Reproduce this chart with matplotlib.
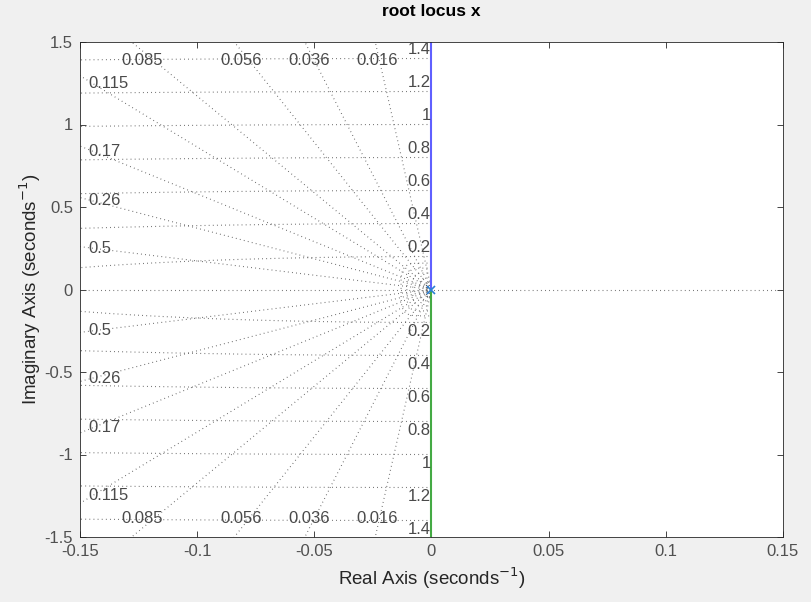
import numpy as np
import matplotlib
matplotlib.use('Agg')
import matplotlib.pyplot as plt

plt.rcParams['font.family'] = ['Liberation Sans', 'DejaVu Sans']

# damping ratios and natural frequencies of the s-plane grid
zetas = [0.016, 0.036, 0.056, 0.085, 0.115, 0.17, 0.26, 0.5]
zeta_labels = ['0.016', '0.036', '0.056', '0.085', '0.115', '0.17', '0.26', '0.5']
wns = [0.2, 0.4, 0.6, 0.8, 1.0, 1.2, 1.4]
wn_labels = ['0.2', '0.4', '0.6', '0.8', '1', '1.2', '1.4']

# small contours around the origin (half width, half height)
inner_w = [0.0022, 0.005, 0.008, 0.0105, 0.013]
inner_h = [0.045, 0.07, 0.1, 0.13, 0.16]

# root locus branches: pole at the origin moving along the imaginary axis
pole_re = [0.0]
pole_im = [0.0]
branch_up_re = [0.0, 0.0]
branch_up_im = [0.0, 1.5]
branch_dn_re = [0.0, 0.0]
branch_dn_im = [0.0, -1.5]

xlim = (-0.15, 0.15)
ylim = (-1.5, 1.5)

grid_col = '#555555'
txt_col = '#4a4a4a'
dots = (0, (0.7, 3.0))
fs = 12

fig = plt.figure(figsize=(8.12, 6.02), dpi=100, facecolor='#f0f0f0')
ax = fig.add_axes([80 / 812, 65 / 602, 703 / 812, 495 / 602])
ax.set_facecolor('white')

# constant damping lines
for z in zetas:
    s = np.sqrt(1 - z ** 2)
    for sgn in (1, -1):
        ax.plot([0, -3 * z], [0, sgn * 3 * s], color=grid_col, lw=0.8, ls=dots)
ax.plot([xlim[0], xlim[1]], [0, 0], color=grid_col, lw=0.8, ls=dots)

# constant natural frequency circles
th = np.linspace(np.pi / 2, 3 * np.pi / 2, 4000)
for w in wns:
    ax.plot(w * np.cos(th), w * np.sin(th), color=grid_col, lw=0.8, ls=dots)

t = np.linspace(0, np.pi, 200)
for w, h in zip(inner_w, inner_h):
    xs = -w * np.abs(np.sin(t)) ** 0.35
    ys = h * np.sign(np.cos(t)) * np.abs(np.cos(t)) ** 0.5
    ax.plot(xs, ys, color=grid_col, lw=0.8, ls=dots if w > 0.003 else (0, (1.0, 1.0)))

# damping labels: along the top/bottom row or at the left edge
for z, lab in zip(zetas, zeta_labels):
    slope = np.sqrt(1 - z ** 2) / z
    y_left = -xlim[0] * slope
    if y_left > 1.4:
        xl = -1.45 / slope
        for sgn in (1, -1):
            ax.text(xl, sgn * 1.385, lab, ha='center', va='center', fontsize=fs, color=txt_col)
    else:
        for sgn in (1, -1):
            ax.text(-0.1465, sgn * y_left * 0.965, lab, ha='left', va='center', fontsize=fs, color=txt_col)

# natural frequency labels next to the imaginary axis
for w, lab in zip(wns, wn_labels):
    ax.text(-0.0004, w + 0.01, lab, ha='right', va='bottom', fontsize=fs, color=txt_col)
    ax.text(-0.0004, -w - 0.01, lab, ha='right', va='top', fontsize=fs, color=txt_col)

# root locus
ax.plot(branch_up_re, branch_up_im, color='#6060ff', lw=1.5)
ax.plot(branch_dn_re, branch_dn_im, color='#44aa44', lw=1.5)
ax.plot(pole_re, pole_im, 'x', color='#2a7fd4', ms=6, mew=1.2)

ax.set_xlim(*xlim)
ax.set_ylim(*ylim)
ax.set_xticks(np.linspace(-0.15, 0.15, 7))
ax.set_xticklabels(['-0.15', '-0.1', '-0.05', '0', '0.05', '0.1', '0.15'])
ax.set_yticks(np.linspace(-1.5, 1.5, 7))
ax.set_yticklabels(['-1.5', '-1', '-0.5', '0', '0.5', '1', '1.5'])
ax.tick_params(direction='in', top=True, right=True, length=4, width=0.6,
               labelsize=fs, colors='#262626', labelcolor='#505050', pad=5)
for sp in ax.spines.values():
    sp.set_color('#262626')
    sp.set_linewidth(0.6)

ax.set_title('root locus x', fontsize=12.5, fontweight='bold', pad=19)
ax.set_xlabel('Real Axis (seconds$^{-1}$)', fontsize=13.5, color='#262626', labelpad=5)
ax.set_ylabel('Imaginary Axis (seconds$^{-1}$)', fontsize=13.5, color='#262626', labelpad=1)

fig.savefig('out.png', dpi=100, facecolor=fig.get_facecolor())
